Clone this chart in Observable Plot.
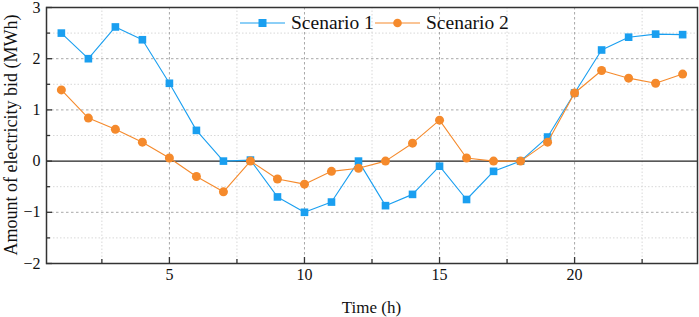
<!DOCTYPE html>
<html>
<head>
<meta charset="utf-8">
<script src="https://cdn.jsdelivr.net/npm/d3@7"></script>
<script src="https://cdn.jsdelivr.net/npm/@observablehq/plot@0.6"></script>
<style>
  html, body { margin: 0; padding: 0; background: #fff; }
  svg { display: block; }
</style>
</head>
<body>
<div id="chart"></div>
<script>
const hours = [1,2,3,4,5,6,7,8,9,10,11,12,13,14,15,16,17,18,19,20,21,22,23,24];
const scenario1 = [2.5,2.0,2.62,2.37,1.52,0.6,0.0,0.02,-0.7,-1.0,-0.8,0.0,-0.87,-0.65,-0.1,-0.75,-0.2,0.0,0.47,1.33,2.17,2.42,2.48,2.47];
const scenario2 = [1.39,0.84,0.62,0.37,0.06,-0.3,-0.6,0.0,-0.35,-0.45,-0.2,-0.14,0.0,0.35,0.8,0.06,0.0,0.0,0.37,1.33,1.77,1.62,1.52,1.7];
const seriesNames = ["Scenario 1", "Scenario 2"];
const seriesColors = ["#1a9ff0", "#f58a2c"];
const xMajorTicks = [5,10,15,20];
const xMinorTicks = [2.5,7.5,12.5,17.5,22.5];
const yMajorTicks = [-2,-1,0,1,2,3];
const yMinorTicks = [-1.5,-0.5,0.5,1.5,2.5];

const s1 = hours.map((h,i) => ({h, v: scenario1[i]}));
const s2 = hours.map((h,i) => ({h, v: scenario2[i]}));

const W = 699, H = 317;
const mL = 46, mR = 2, mT = 7, mB = 54;
const fw = W - mL - mR, fh = H - mT - mB;
const font = "'Liberation Serif', 'Times New Roman', serif";

const plot = Plot.plot({
  width: W, height: H,
  marginLeft: mL, marginRight: mR, marginTop: mT, marginBottom: mB,
  style: {fontFamily: font, fontSize: "16px", color: "#111", background: "#fff", overflow: "visible"},
  x: {domain: [0.45, 24.55], axis: null},
  y: {domain: [-2, 3], axis: null},
  marks: [
    // minor grid
    Plot.ruleX(xMinorTicks, {stroke: "#d8d8d8", strokeDasharray: "1.5,2", strokeWidth: 1}),
    Plot.ruleY(yMinorTicks, {stroke: "#d8d8d8", strokeDasharray: "1.5,2", strokeWidth: 1}),
    // major grid
    Plot.ruleX(xMajorTicks, {stroke: "#a8a8a8", strokeDasharray: "2.5,2.5", strokeWidth: 1}),
    Plot.ruleY(yMajorTicks.filter(d => d !== 0 && d !== -2 && d !== 3), {stroke: "#a8a8a8", strokeDasharray: "2.5,2.5", strokeWidth: 1}),
    // zero line
    Plot.ruleY([0], {stroke: "#222", strokeWidth: 1.3}),
    // inward ticks
    Plot.tickX(xMajorTicks, {stroke: "#333", strokeWidth: 1.3, insetTop: fh - 6}),
    Plot.tickX(xMinorTicks, {stroke: "#333", strokeWidth: 1.3, insetTop: fh - 4}),
    Plot.tickY(yMajorTicks, {stroke: "#333", strokeWidth: 1.3, insetRight: fw - 6}),
    Plot.tickY(yMinorTicks, {stroke: "#333", strokeWidth: 1.3, insetRight: fw - 4}),
    // tick labels
    Plot.text(xMajorTicks, {x: d => d, frameAnchor: "bottom", dy: 16, text: d => String(d), fontSize: 16, fill: "#111"}),
    Plot.text(yMajorTicks, {y: d => d, frameAnchor: "left", dx: -6, textAnchor: "end", text: d => d < 0 ? "\u2212" + Math.abs(d) : String(d), fontSize: 16, fill: "#111"}),
    // series
    Plot.line(s1, {x: "h", y: "v", stroke: seriesColors[0], strokeWidth: 1.1}),
    Plot.dot(s1, {x: "h", y: "v", symbol: "square", r: 4.3, fill: seriesColors[0], stroke: "none"}),
    Plot.line(s2, {x: "h", y: "v", stroke: seriesColors[1], strokeWidth: 1.1}),
    Plot.dot(s2, {x: "h", y: "v", symbol: "circle", r: 4.5, fill: seriesColors[1], stroke: "none"}),
    Plot.frame({stroke: "#333", strokeWidth: 1.5})
  ]
});

const svg = d3.select(plot);
// axis titles
svg.append("text")
  .attr("x", mL + fw / 2).attr("y", 313)
  .attr("text-anchor", "middle")
  .style("font-family", font).style("font-size", "17px").attr("fill", "#111")
  .text("Time (h)");
svg.append("text")
  .attr("transform", `translate(17,${mT + fh / 2}) rotate(-90)`)
  .attr("text-anchor", "middle")
  .style("font-family", font).style("font-size", "18px").attr("fill", "#111")
  .text("Amount of electricity bid (MWh)");

// legend
const legend = svg.append("g").attr("transform", "translate(240,23)");
const items = [{x: 0, sym: "square"}, {x: 135, sym: "circle"}];
items.forEach((it, i) => {
  const g = legend.append("g").attr("transform", `translate(${it.x},0)`);
  g.append("line").attr("x1", 0).attr("x2", 45).attr("y1", 0).attr("y2", 0)
    .attr("stroke", seriesColors[i]).attr("stroke-width", 1.1);
  if (it.sym === "square") {
    g.append("rect").attr("x", 22.5 - 4).attr("y", -4).attr("width", 8).attr("height", 8).attr("fill", seriesColors[i]);
  } else {
    g.append("circle").attr("cx", 22.5).attr("cy", 0).attr("r", 4.3).attr("fill", seriesColors[i]);
  }
  g.append("text").attr("x", 51).attr("y", 0).attr("dy", "0.33em")
    .attr("text-anchor", "start")
    .style("font-family", font).style("font-size", "19.5px").attr("fill", "#111")
    .text(seriesNames[i]);
});

document.getElementById("chart").appendChild(plot);
</script>
</body>
</html>
